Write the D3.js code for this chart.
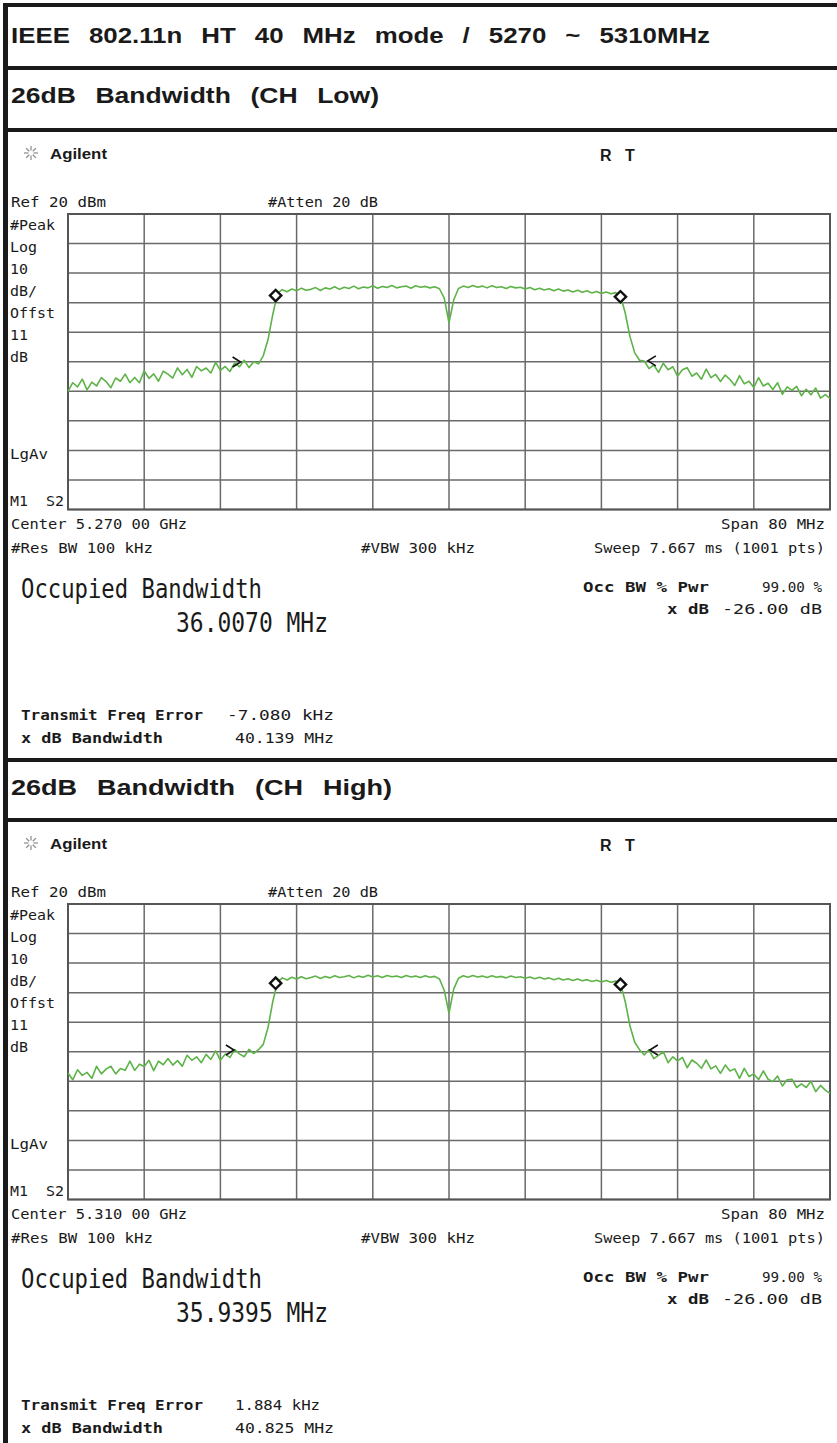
<!DOCTYPE html>
<html><head><meta charset="utf-8">
<script src="https://cdn.jsdelivr.net/npm/d3@7"></script>
<style>body{margin:0;background:#fff}svg{display:block}text{white-space:pre}</style>
</head><body>
<svg id="c" width="837" height="1443"></svg>
<script>
// ---------------- data ----------------
const pageTitle = "IEEE  802.11n  HT  40  MHz  mode  /  5270  ~  5310MHz";
const panelTitles = ["26dB  Bandwidth  (CH  Low)", "26dB  Bandwidth  (CH  High)"];
const centerFreqs = [5270, 5310];               // MHz
const centerLabels = ["Center 5.270 00 GHz", "Center 5.310 00 GHz"];
const spanLabel = "Span 80 MHz";
const spanMHz = 80;
const refLevel = 20, dbPerDiv = 10, yDivs = 10, xDivs = 10;
const leftLabels = ["#Peak", "Log", "10", "dB/", "Offst", "11", "dB"];
const occBW = ["36.0070 MHz", "35.9395 MHz"];
const freqError = ["-7.080 kHz", "1.884 kHz"];
const xdbBW = ["40.139 MHz", "40.825 MHz"];

// trace values (dBm), evenly spaced over the 80 MHz span (0.5 MHz apart)
const traceLow = [
-40.0,-37.1,-38.5,-35.9,-39.5,-36.9,-38.2,-35.4,-36.7,-38.8,
-35.5,-36.6,-34.2,-37.1,-35.3,-37.1,-33.1,-35.6,-34.1,-36.6,
-33.2,-34.2,-35.5,-32.1,-34.4,-32.6,-35.3,-31.6,-33.1,-32.1,
-33.8,-30.2,-32.9,-31.6,-33.3,-30.4,-31.7,-29.5,-32.0,-30.0,
-30.7,-28.0,-22.5,-14.0,-6.8,-5.6,-6.3,-5.4,-6.0,-5.1,
-5.8,-5.5,-4.9,-5.9,-5.0,-5.4,-4.6,-5.5,-4.8,-5.2,
-4.4,-5.3,-4.7,-5.0,-4.3,-5.1,-4.5,-4.9,-4.2,-5.0,
-4.6,-4.4,-5.1,-4.3,-4.8,-4.5,-5.0,-4.6,-5.3,-8.5,
-16.8,-9.0,-5.2,-4.4,-4.9,-4.2,-4.8,-4.4,-5.0,-4.3,
-4.9,-4.6,-5.2,-4.5,-5.0,-4.8,-5.4,-4.9,-5.6,-5.1,
-5.7,-5.3,-6.0,-5.4,-6.1,-5.7,-6.4,-5.8,-6.5,-6.0,
-6.7,-6.2,-6.9,-6.4,-7.0,-6.6,-7.6,-13.5,-21.5,-27.0,
-29.5,-29.8,-32.3,-31.1,-33.6,-30.5,-32.7,-31.7,-34.9,-32.7,
-32.0,-34.9,-33.8,-35.9,-32.5,-35.4,-34.3,-36.7,-34.5,-36.0,
-38.0,-34.7,-37.5,-36.6,-38.7,-35.4,-38.2,-37.3,-39.4,-37.1,
-41.0,-38.5,-39.7,-38.3,-41.5,-39.3,-41.2,-38.9,-42.3,-41.1,
-42.4];
const traceHigh = [
-37.2,-39.5,-36.1,-38.0,-37.0,-39.0,-34.9,-37.5,-35.9,-34.9,
-37.5,-35.7,-36.3,-33.2,-36.3,-34.2,-35.0,-32.9,-36.4,-33.2,
-34.4,-32.3,-34.5,-33.0,-34.9,-31.2,-32.9,-31.7,-33.7,-30.9,
-32.6,-29.7,-32.9,-30.8,-31.9,-29.3,-30.7,-31.7,-29.2,-30.6,
-29.3,-27.5,-21.8,-13.0,-6.4,-5.0,-5.7,-4.8,-5.4,-4.6,
-5.3,-4.9,-4.4,-5.2,-4.5,-5.0,-4.3,-4.9,-4.6,-4.2,
-5.0,-4.4,-4.8,-4.1,-4.7,-4.3,-4.9,-4.2,-4.6,-4.4,
-4.9,-4.2,-4.7,-4.4,-4.9,-4.3,-4.8,-4.5,-5.4,-9.2,
-16.9,-8.7,-5.1,-4.3,-4.8,-4.2,-4.7,-4.4,-4.9,-4.3,
-4.8,-4.5,-5.0,-4.4,-4.9,-4.6,-5.1,-4.7,-5.3,-4.8,
-5.4,-5.0,-5.6,-5.1,-5.7,-5.3,-5.9,-5.4,-6.0,-5.6,
-6.2,-5.8,-6.4,-5.9,-6.5,-6.1,-7.0,-13.0,-21.3,-26.8,
-29.3,-31.1,-29.3,-32.3,-31.2,-30.0,-33.7,-31.7,-33.1,-31.9,
-35.4,-32.8,-33.9,-35.6,-32.8,-35.8,-34.8,-37.3,-34.5,-36.5,
-35.8,-39.0,-35.6,-38.4,-37.5,-39.4,-36.5,-39.3,-40.1,-38.2,
-41.6,-39.5,-39.3,-42.1,-40.9,-42.1,-40.0,-43.5,-41.4,-43.0,
-44.1];
const traces = [traceLow, traceHigh];
// markers: [offset from center MHz, dBm]
const diamondMarks = [[[-18.2,-7.6],[18.0,-8.0]], [[-18.2,-6.8],[18.0,-7.2]]];
const arrowMarks = [[[-22.3,-30.1],[21.3,-29.7]], [[-23.0,-29.4],[21.5,-29.4]]];

// ---------------- drawing ----------------
const svg = d3.select("#c");
const W = 837;
svg.append("rect").attr("width",W).attr("height",1443).attr("fill","#fff");

// frame
const frame = svg.append("g").attr("fill","#1a1a1a");
frame.append("rect").attr("x",3).attr("y",3).attr("width",W-3).attr("height",4);
frame.append("rect").attr("x",3).attr("y",3).attr("width",5).attr("height",1440);
[66,128,758,818].forEach(y=>frame.append("rect").attr("x",3).attr("y",y).attr("width",W-3).attr("height",4));

function hdr(t,y,right){
  svg.append("text").attr("x",11).attr("y",y)
    .attr("font-family","Liberation Sans, Arial, sans-serif").attr("font-weight","bold")
    .attr("font-size",22).attr("fill","#1a1a1a").attr("word-spacing",2)
    .attr("textLength",right-11).attr("lengthAdjust","spacingAndGlyphs").text(t);
}
hdr(pageTitle,43,710);
hdr(panelTitles[0],103,379);
hdr(panelTitles[1],795,392);

const mono = "DejaVu Sans Mono, monospace";
function txt(g,t,x,y,opt={}){
  const e = g.append("text").attr("x",x).attr("y",y).attr("font-family",opt.ff||mono)
    .attr("font-size",opt.fs||14).attr("fill","#1a1a1a").text(t);
  if(opt.bold) e.attr("font-weight","bold");
  if(opt.anchor) e.attr("text-anchor",opt.anchor);
  if(opt.len){ e.attr("textLength",opt.len).attr("lengthAdjust","spacingAndGlyphs"); }
  return e;
}

function panel(k, dy){
  const g = svg.append("g").attr("transform",`translate(0,${dy})`);
  // Agilent logo
  const star = g.append("g").attr("transform","translate(31,153)").attr("stroke","#8a8a8a").attr("stroke-width",1.2);
  d3.range(8).forEach(i=>{const a=i*Math.PI/4;star.append("line").attr("x1",2.5*Math.cos(a)).attr("y1",2.5*Math.sin(a)).attr("x2",7*Math.cos(a)).attr("y2",7*Math.sin(a));});
  txt(g,"Agilent",50,159,{ff:"Liberation Sans, Arial",fs:14,bold:true,len:57});
  txt(g,"R",600,161,{ff:"Liberation Sans, Arial",fs:16,bold:true});
  txt(g,"T",625,161,{ff:"Liberation Sans, Arial",fs:16,bold:true});

  const f0 = centerFreqs[k]-spanMHz/2;
  const x = d3.scaleLinear().domain([f0, f0+spanMHz]).range([68,830]);
  const y = d3.scaleLinear().domain([refLevel-dbPerDiv*yDivs, refLevel]).range([509.5,214]);

  // graticule: 10 x 10 divisions
  const grid = g.append("g").attr("stroke","#6a6a6a").attr("stroke-width",1.5).attr("fill","none");
  d3.range(xDivs+1).map(i=>f0+i*spanMHz/xDivs).forEach(f=>grid.append("line").attr("x1",x(f)).attr("x2",x(f)).attr("y1",214).attr("y2",509.5));
  y.ticks(yDivs).forEach(v=>grid.append("line").attr("y1",y(v)).attr("y2",y(v)).attr("x1",68).attr("x2",830));
  grid.append("rect").attr("x",68).attr("y",214).attr("width",762).attr("height",295.5).attr("stroke","#555").attr("stroke-width",2);

  // texts
  txt(g,"Ref 20 dBm",11,207,{len:95});
  txt(g,"#Atten 20 dB",268,207,{len:110});
  leftLabels.forEach((t,i)=>txt(g,t,10,230+22*i,{len:t.length*9}));
  txt(g,"LgAv",10,459,{len:38});
  txt(g,"M1  S2",10,506,{len:54});
  txt(g,centerLabels[k],11,529,{len:176});
  txt(g,spanLabel,825,529,{anchor:"end",len:104});
  txt(g,"#Res BW 100 kHz",11,553,{len:142});
  txt(g,"#VBW 300 kHz",361,553,{len:114});
  txt(g,"Sweep 7.667 ms (1001 pts)",825,553,{anchor:"end",len:231});
  txt(g,"Occupied Bandwidth",21,598,{fs:26,len:241});
  txt(g,occBW[k],176,632,{fs:26,len:152});
  txt(g,"Occ BW % Pwr",583,592,{bold:true,len:126});
  txt(g,"99.00 %",822,592,{anchor:"end",len:60});
  txt(g,"x dB",667,614,{bold:true,len:42});
  txt(g,"-26.00 dB",822,614,{anchor:"end",len:100});
  txt(g,"Transmit Freq Error",21,720,{bold:true,len:182});
  const fe = freqError[k];
  txt(g,fe,fe.startsWith("-")?227:235,720,{len:fe.length*(fe.startsWith("-")?10.7:9.45)});
  txt(g,"x dB Bandwidth",21,743,{bold:true,len:142});
  txt(g,xdbBW[k],235,743,{len:99});

  // trace
  const data = traces[k];
  const step = spanMHz/(data.length-1);
  const line = d3.line().x((d,i)=>x(f0+i*step)).y(d=>y(d));
  g.append("path").datum(data).attr("d",line).attr("fill","none")
    .attr("stroke","#5db347").attr("stroke-width",1.6).attr("stroke-linejoin","round");

  // markers
  diamondMarks[k].forEach(([o,v])=>{
    g.append("rect").attr("x",-4).attr("y",-4).attr("width",8).attr("height",8)
      .attr("transform",`translate(${x(centerFreqs[k]+o)},${y(v)}) rotate(45)`)
      .attr("fill","#fff").attr("stroke","#111").attr("stroke-width",2.4);
  });
  arrowMarks[k].forEach(([o,v],i)=>{
    const cx = x(centerFreqs[k]+o), cy = y(v), s = i===0?1:-1;
    g.append("path").attr("d",`M${cx-4*s},${cy-5}L${cx+4*s},${cy}L${cx-4*s},${cy+5}`)
      .attr("fill","none").attr("stroke","#111").attr("stroke-width",1.6);
  });
}
panel(0,0);
panel(1,690);
</script>
</body></html>
